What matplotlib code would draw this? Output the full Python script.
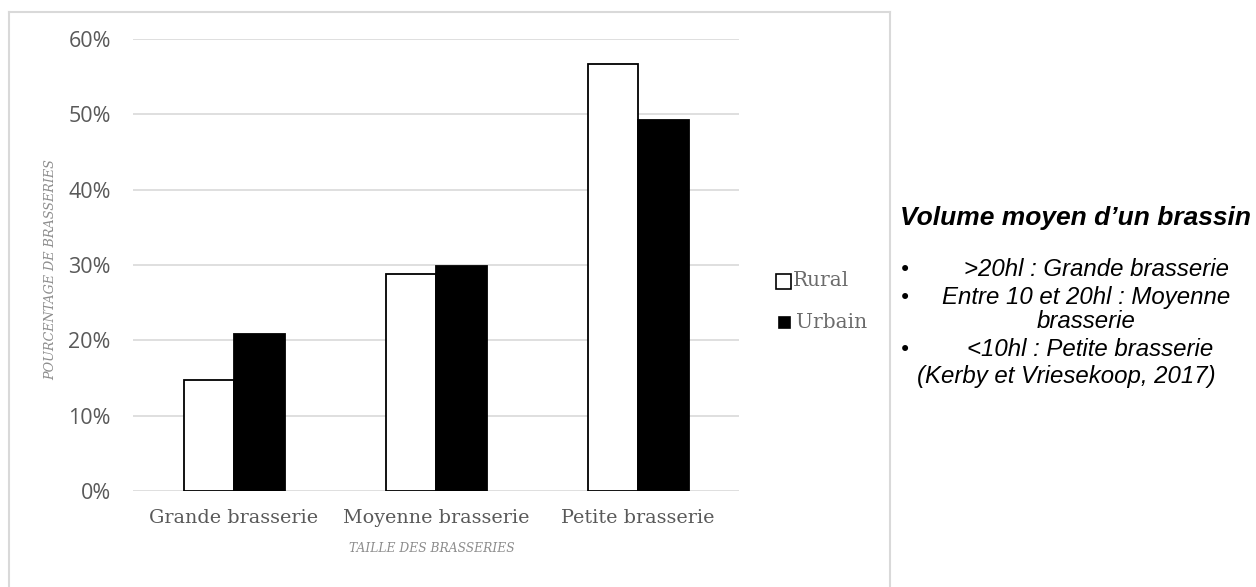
import matplotlib
matplotlib.use("Agg")
import matplotlib.pyplot as plt
import numpy as np
from matplotlib.patches import Rectangle

categories = ["Grande brasserie", "Moyenne brasserie", "Petite brasserie"]
rural = [14.8, 28.8, 56.7]
urbain = [20.8, 29.9, 49.3]
series_names = ["Rural", "Urbain"]
y_ticks = [0, 10, 20, 30, 40, 50, 60]
y_label = "POURCENTAGE DE BRASSERIES"
x_label = "TAILLE DES BRASSERIES"
note_title = "Volume moyen d\u2019un brassin"
note_lines = [">20hl : Grande brasserie",
              "Entre 10 et 20hl : Moyenne",
              "brasserie",
              "<10hl : Petite brasserie",
              "(Kerby et Vriesekoop, 2017)"]
note_bullets = [True, True, False, True, False]

W, H = 1256, 587
fig = plt.figure(figsize=(W / 100, H / 100), dpi=100)

def px(x, y):
    return x / W, 1 - y / H

# chart frame (light grey, open at bottom)
frame_col = "#d9d9d9"
for xs, ys in (([9, 9], [587, 12]), ([890, 890], [587, 12]), ([9, 890], [12, 12])):
    fig.add_artist(plt.Line2D([v / W for v in xs], [1 - v / H for v in ys],
                              color=frame_col, lw=1.5, transform=fig.transFigure))

# plot area
left, right, top, bottom = 133, 739, 39, 491
ax = fig.add_axes([left / W, 1 - bottom / H, (right - left) / W, (bottom - top) / H])

x = np.arange(len(categories))
w = 0.25
ax.bar(x - w / 2, rural, w, color="white", edgecolor="black", linewidth=1.3, zorder=3)
ax.bar(x + w / 2, urbain, w, color="black", edgecolor="black", linewidth=1.3, zorder=3)

ax.set_xlim(-0.5, len(categories) - 0.5)
ax.set_ylim(0, 60)
ax.set_yticks(y_ticks)
ax.set_yticklabels([f"{v}%" for v in y_ticks], family="Open Sans", fontsize=15.5, color="#595959")
ax.set_xticks(x)
ax.set_xticklabels(categories, family="DejaVu Serif", fontsize=13.8, color="#595959")
ax.yaxis.grid(True, color="#d9d9d9", lw=1.2, zorder=0)
for s in ax.spines.values():
    s.set_visible(False)
ax.tick_params(length=0)
ax.tick_params(axis="y", pad=16)
ax.tick_params(axis="x", pad=13)

fig.text(*px(51, 270), y_label, rotation=90, ha="center", va="center",
         family="DejaVu Serif", style="italic", fontsize=9.2, color="#8c8c8c")
fig.text(*px(432, 549), x_label, ha="center", va="center",
         family="DejaVu Serif", style="italic", fontsize=8.8, color="#8c8c8c")

# legend
legend_rows = [(281, 776, 15, "white"), (322, 779, 11, "black")]
for name, (cy, x0, size, fc) in zip(series_names, legend_rows):
    fig.add_artist(Rectangle((x0 / W, 1 - (cy + size / 2) / H), size / W, size / H,
                             facecolor=fc, edgecolor="black", lw=1.2, transform=fig.transFigure))
    fig.text(*px(793 if fc == "white" else 796, cy), name, ha="left", va="center",
             family="DejaVu Serif", fontsize=14.5, color="#6b6b6b")

# side note
fig.text(*px(900, 218), note_title, ha="left", va="center", family="Liberation Sans",
         weight="bold", style="italic", fontsize=19, color="black")
line_y = [270, 298, 322, 350, 376]
line_x = [1097, 1086, 1086, 1090, 1066]
for yy, xx, txt, bullet in zip(line_y, line_x, note_lines, note_bullets):
    if bullet:
        fig.text(*px(905, yy), "\u2022", ha="center", va="center", fontsize=15, color="black")
    fig.text(*px(xx, yy), txt, ha="center", va="center", family="Liberation Sans",
             style="italic", fontsize=17.3, color="black")

fig.savefig("out.png", dpi=100)
